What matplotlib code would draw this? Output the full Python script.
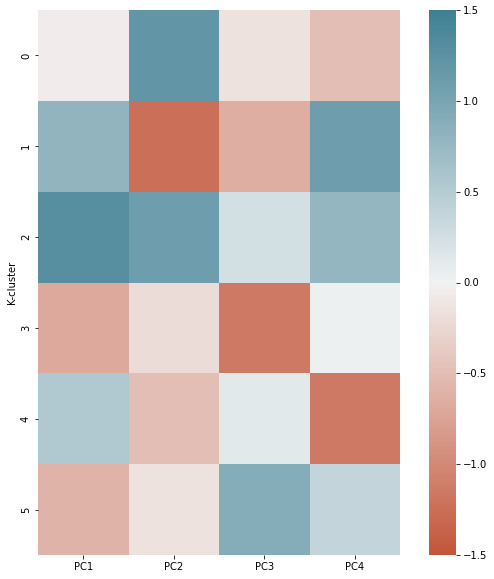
import numpy as np
import pandas as pd
import seaborn as sns
import matplotlib.pyplot as plt

pcs = ["PC1", "PC2", "PC3", "PC4"]
clusters = [0, 1, 2, 3, 4, 5]

pc1 = [-0.05, 0.80, 1.30, -0.70, 0.55, -0.60]
pc2 = [1.20, -1.25, 1.10, -0.20, -0.50, -0.15]
pc3 = [-0.15, -0.65, 0.25, -1.15, 0.12, 0.90]
pc4 = [-0.50, 1.10, 0.78, 0.03, -1.15, 0.38]

df = pd.DataFrame({"PC1": pc1, "PC2": pc2, "PC3": pc3, "PC4": pc4}, index=clusters)
df.index.name = "K-cluster"

fig = plt.figure(figsize=(494 / 72, 579 / 72), dpi=72)
ax = fig.add_axes([38 / 494, 1 - 555 / 579, (400 - 38) / 494, (555 - 10) / 579])
cax = fig.add_axes([429 / 494, 1 - 555 / 579, (456 - 429) / 494, (555 - 10) / 579])

cmap = sns.diverging_palette(20, 220, as_cmap=True)
sns.heatmap(df, cmap=cmap, vmin=-1.5, vmax=1.5, center=0, ax=ax, cbar_ax=cax)

cax.tick_params(labelsize=10)
fig.savefig("out.png", dpi=72)
